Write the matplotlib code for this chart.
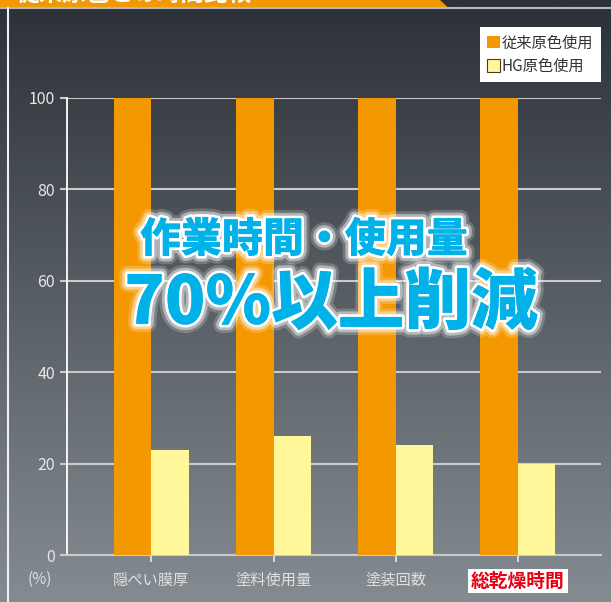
import numpy as np
import matplotlib
matplotlib.use('Agg')
import matplotlib.pyplot as plt
from matplotlib.patches import Patch, Polygon
import matplotlib.patheffects as pe

plt.rcParams['font.family'] = ['Noto Sans CJK JP', 'DejaVu Sans']

categories = ['隠ぺい膜厚', '塗料使用量', '塗装回数', '総乾燥時間']
conventional = [100, 100, 100, 100]
hg = [23, 26, 24, 20]
yticks = [0, 20, 40, 60, 80, 100]
labels = ['従来原色使用', 'HG原色使用']

orange = '#f39800'
yellow = '#fff799'
light = '#e8e8e8'

W, H = 611, 602
fig = plt.figure(figsize=(W / 100, H / 100), dpi=100)

# background gradient
bg = fig.add_axes([0, 0, 1, 1], zorder=-10)
top_c = np.array([0x2b, 0x31, 0x36]) / 255
bot_c = np.array([0x85, 0x8c, 0x91]) / 255
t = np.linspace(0, 1, 256)[:, None, None]
grad = top_c * (1 - t) + bot_c * t
bg.imshow(np.repeat(grad, 2, axis=1), aspect='auto', extent=[0, W, H, 0])
bg.set_xlim(0, W)
bg.set_ylim(H, 0)
bg.axis('off')

# header banner (cut off at the top in the original too)
bg.add_patch(Polygon([[0, 0], [440, 0], [448, 7.5], [0, 7.5]], closed=True,
                     facecolor=orange, edgecolor='none'))
bg.plot([0, W], [8, 8], color='#b4b8bb', lw=1.5)
bg.plot([8, 8], [8, H], color='#f0f0f0', lw=1.5)
bg.text(16, 6, '従来原色との時間比較', color='white', fontsize=17, fontweight='bold',
        ha='left', va='bottom', clip_on=True)

ax = fig.add_axes([67 / W, 1 - 555 / H, (601 - 67) / W, (555 - 98) / H])
ax.set_facecolor('none')

x = np.arange(len(categories))
w = 0.307
ax.bar(x - w / 2, conventional, w, color=orange, zorder=3)
ax.bar(x + w / 2, hg, w, color=yellow, zorder=3)

ax.set_xlim(-0.69, 3.68)
ax.set_ylim(0, 100)
ax.set_yticks(yticks)
ax.set_xticks(x)
ax.set_xticklabels(categories)
ax.grid(axis='y', color='#c8cacc', lw=1.5, zorder=1)
for s in ['top', 'right']:
    ax.spines[s].set_visible(False)
ax.spines['left'].set_color('white')
ax.spines['left'].set_linewidth(1.3)
ax.spines['bottom'].set_color('#c8cacc')
ax.spines['bottom'].set_linewidth(1.5)
ax.tick_params(axis='y', length=5, width=1.5, color='#c8cacc', labelcolor=light,
               labelsize=11.5, pad=3.5)
ax.tick_params(axis='x', length=5, width=1.3, color='#e0e0e0', labelcolor='#e0e0e0',
               labelsize=11, pad=7)

last = ax.get_xticklabels()[3]
last.set_color('#e60012')
last.set_fontweight('bold')
last.set_fontsize(13.5)
last.set_bbox(dict(facecolor='white', edgecolor='none', boxstyle='square,pad=0.15'))

fig.text(40 / W, 1 - 579 / H, '(%)', color='#e0e0e0', fontsize=11, ha='center', va='center')

# legend
handles = [Patch(facecolor=orange, edgecolor='none'),
           Patch(facecolor=yellow, edgecolor='#4a3a20', linewidth=0.8)]
leg = fig.legend(handles, labels, loc='upper right', bbox_to_anchor=(601 / W, 1 - 27 / H),
                 fontsize=11, frameon=True, fancybox=False, handlelength=0.85,
                 handleheight=0.85, handletextpad=0.1, labelspacing=0.4,
                 borderpad=0.5, borderaxespad=0)
leg.get_frame().set_facecolor('white')
leg.get_frame().set_edgecolor('none')
leg.get_frame().set_alpha(1)
for txt in leg.get_texts():
    txt.set_color('#333333')

# overlay message
glow = [pe.withStroke(linewidth=12, foreground='white', alpha=0.2),
        pe.withStroke(linewidth=8, foreground='white', alpha=0.45),
        pe.withStroke(linewidth=4, foreground='white'),
        pe.Normal()]
fig.text(304 / W, 1 - 240 / H, '作業時間・使用量', color='#00b2e8', fontsize=29.5,
         fontweight='heavy', fontstyle='italic', ha='center', va='center',
         path_effects=glow, zorder=10)
fig.text(331 / W, 1 - 304 / H, '70%以上削減', color='#00b2e8', fontsize=48,
         fontweight='heavy', fontstyle='italic', ha='center', va='center',
         path_effects=glow, zorder=10)

fig.savefig('out.png', dpi=100)
